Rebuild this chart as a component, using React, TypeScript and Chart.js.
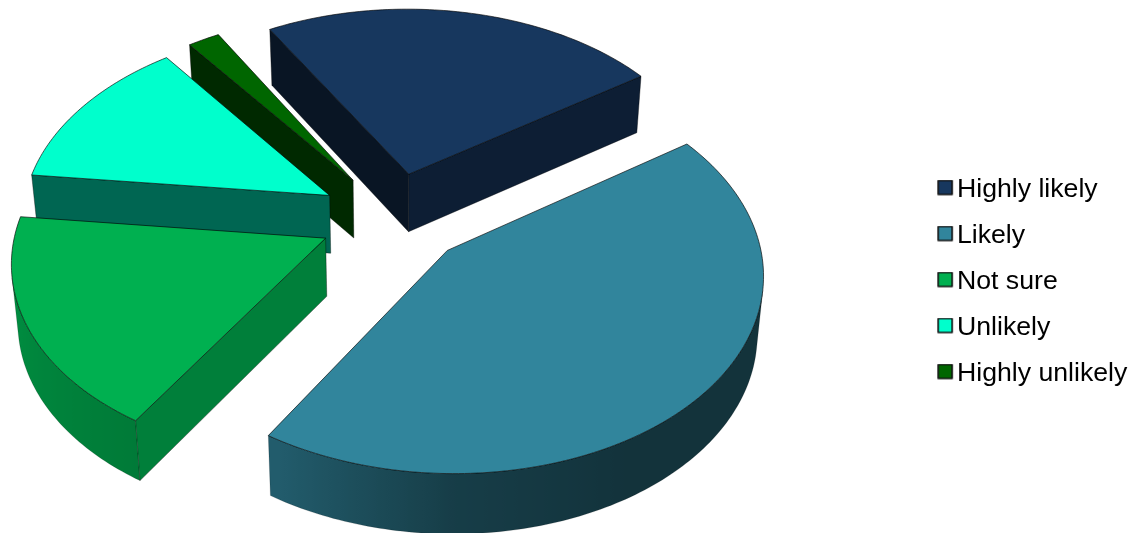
import React, { useEffect, useRef } from "react";
import { Chart, registerables } from "chart.js";

Chart.register(...registerables);

const categories = ["Highly likely", "Likely", "Not sure", "Unlikely", "Highly unlikely"];
const shares = [23.7, 43.6, 17.8, 13.0, 1.9];
const topColors = ["#17375E", "#31859C", "#00B050", "#00FFCC", "#006600"];
const startWallShade = [0.38, 0.5, 0.72, 0.4, 0.4];
const endWallShade = [0.55, 0.5, 0.5, 0.5, 0.5];

// Arc-wall brightness against the direction of the rim (degrees, clockwise from +x).
const rimAngles = [0, 60, 90, 120, 150, 190, 360];
const rimShades = [0.38, 0.38, 0.46, 0.69, 0.76, 0.87, 0.87];

const VIEW = { cx: 393, cy: 218, a: 308, b: 191.7, p: 0.1076, depth: 58, taper: 0.983, depthY: 2 };

type Pt = [number, number];

const project = (X: number, Y: number, low: boolean): Pt => {
  const s = 1 / (1 - VIEW.p * Y);
  const dx = VIEW.a * X * s;
  const dy = VIEW.b * Y * s;
  return low
    ? [VIEW.cx + dx * VIEW.taper, VIEW.cy + dy + VIEW.depth + VIEW.depthY * Y]
    : [VIEW.cx + dx, VIEW.cy + dy];
};

const shadeColor = (hex: string, f: number) => {
  const n = parseInt(hex.slice(1), 16);
  return `rgb(${Math.round(((n >> 16) & 255) * f)},${Math.round(((n >> 8) & 255) * f)},${Math.round((n & 255) * f)})`;
};

const rimShade = (deg: number) => {
  const d = ((deg % 360) + 360) % 360;
  for (let i = 1; i < rimAngles.length; i++) {
    if (d <= rimAngles[i]) {
      const t = (d - rimAngles[i - 1]) / (rimAngles[i] - rimAngles[i - 1]);
      return rimShades[i - 1] + t * (rimShades[i] - rimShades[i - 1]);
    }
  }
  return rimShades[rimShades.length - 1];
};

const facing = (a: Pt, b: Pt, c: Pt) =>
  (b[0] - a[0]) * (c[1] - b[1]) - (b[1] - a[1]) * (c[0] - b[0]) < 0;

const poly = (ctx: CanvasRenderingContext2D, pts: Pt[]) => {
  ctx.beginPath();
  pts.forEach((q, i) => (i ? ctx.lineTo(q[0], q[1]) : ctx.moveTo(q[0], q[1])));
  ctx.closePath();
};

const pie3d = {
  id: "pie3d",
  beforeDraw(chart: any) {
    const lg = chart.legend;
    const w = lg.right - lg.left;
    const h = lg.bottom - lg.top;
    lg.left = 923.3;
    lg.right = lg.left + w;
    lg.top = 15;
    lg.bottom = lg.top + h;
  },
  beforeDatasetsDraw(chart: any) {
    const ctx: CanvasRenderingContext2D = chart.ctx;
    const arcs: any[] = chart.getDatasetMeta(0).data;
    const order = arcs
      .map((arc, i) => ({ arc, i, my: Math.sin((arc.startAngle + arc.endAngle) / 2) * arc.options.offset }))
      .sort((u, v) => u.my - v.my);

    ctx.save();
    ctx.lineJoin = "round";
    for (const { arc, i } of order) {
      const R = arc.outerRadius;
      const mid = (arc.startAngle + arc.endAngle) / 2;
      const ox = (Math.cos(mid) * arc.options.offset) / R;
      const oy = (Math.sin(mid) * arc.options.offset) / R;
      const n = Math.max(2, Math.ceil(((arc.endAngle - arc.startAngle) * 180) / Math.PI));
      const angs: number[] = [];
      for (let k = 0; k <= n; k++) angs.push(arc.startAngle + ((arc.endAngle - arc.startAngle) * k) / n);
      const rimTop = angs.map((t) => project(ox + Math.cos(t), oy + Math.sin(t), false));
      const rimLow = angs.map((t) => project(ox + Math.cos(t), oy + Math.sin(t), true));
      const apexTop = project(ox, oy, false);
      const apexLow = project(ox, oy, true);
      const base = topColors[i];

      // Rim wall: one polygon over the part that faces the viewer, shaded across x.
      let k0 = -1;
      let k1 = -1;
      for (let k = 0; k < n; k++) {
        if (facing(rimTop[k], rimTop[k + 1], rimLow[k + 1])) {
          if (k0 < 0) k0 = k;
          k1 = k + 1;
        }
      }
      if (k0 >= 0) {
        const pts: Pt[] = [];
        for (let k = k0; k <= k1; k++) pts.push(rimTop[k]);
        for (let k = k1; k >= k0; k--) pts.push(rimLow[k]);
        const x0 = rimTop[k0][0];
        const x1 = rimTop[k1][0];
        const grad = ctx.createLinearGradient(x0, 0, x1, 0);
        for (let k = k0; k <= k1; k++) {
          const t = Math.min(1, Math.max(0, (rimTop[k][0] - x0) / (x1 - x0)));
          grad.addColorStop(t, shadeColor(base, rimShade((angs[k] * 180) / Math.PI)));
        }
        poly(ctx, pts);
        ctx.fillStyle = grad;
        ctx.fill();
        ctx.strokeStyle = "rgba(0,0,0,0.25)";
        ctx.lineWidth = 0.6;
        ctx.stroke();
      }

      const walls: [Pt, Pt, Pt, Pt, number][] = [
        [apexTop, rimTop[0], rimLow[0], apexLow, startWallShade[i]],
        [rimTop[n], apexTop, apexLow, rimLow[n], endWallShade[i]],
      ];
      for (const [p0, p1, p2, p3, sh] of walls) {
        if (!facing(p0, p1, p2)) continue;
        poly(ctx, [p0, p1, p2, p3]);
        ctx.fillStyle = shadeColor(base, sh);
        ctx.fill();
        ctx.strokeStyle = "rgba(0,0,0,0.5)";
        ctx.lineWidth = 0.7;
        ctx.stroke();
      }

      poly(ctx, [apexTop, ...rimTop]);
      ctx.fillStyle = base;
      ctx.fill();
      ctx.strokeStyle = "rgba(0,0,0,0.7)";
      ctx.lineWidth = 0.9;
      ctx.stroke();
    }
    ctx.restore();
    return false;
  },
};

const legendSwatch = (color: string) => {
  const c = document.createElement("canvas");
  c.width = 24;
  c.height = 20;
  const g = c.getContext("2d")!;
  g.fillStyle = color;
  g.strokeStyle = "#111";
  g.lineWidth = 1.6;
  g.lineJoin = "round";
  g.beginPath();
  g.rect(7, 1, 14, 14);
  g.fill();
  g.stroke();
  return c;
};

export default function App() {
  const ref = useRef<HTMLCanvasElement>(null);
  useEffect(() => {
    const chart = new Chart(ref.current!, {
      type: "pie",
      data: {
        labels: categories,
        datasets: [
          {
            data: shares,
            backgroundColor: topColors,
            borderWidth: 0,
            offset: 48,
          },
        ],
      },
      options: {
        responsive: false,
        animation: false,
        rotation: -30,
        radius: 200,
        plugins: {
          tooltip: { enabled: false },
          legend: {
            position: "right",
            align: "center",
            labels: {
              usePointStyle: true,
              boxHeight: 16,
              pointStyleWidth: 1,
              padding: 19.33,
              color: "#000",
              font: { family: "'Liberation Sans', Arial, sans-serif", size: 26.67, lineHeight: 1 },
              generateLabels: (c: any) =>
                c.data.labels.map((text: string, index: number) => ({
                  text,
                  index,
                  fillStyle: topColors[index],
                  strokeStyle: "#111",
                  lineWidth: 1,
                  pointStyle: legendSwatch(topColors[index]),
                  fontColor: "#000",
                  hidden: false,
                })),
            },
          },
        },
      } as any,
      plugins: [pie3d as any],
    });
    return () => chart.destroy();
  }, []);
  return (
    <div style={{ position: "absolute", left: 0, top: 0, width: 1139, height: 533, background: "#fff" }}>
      <canvas ref={ref} width={1139} height={533} style={{ display: "block" }} />
    </div>
  );
}
